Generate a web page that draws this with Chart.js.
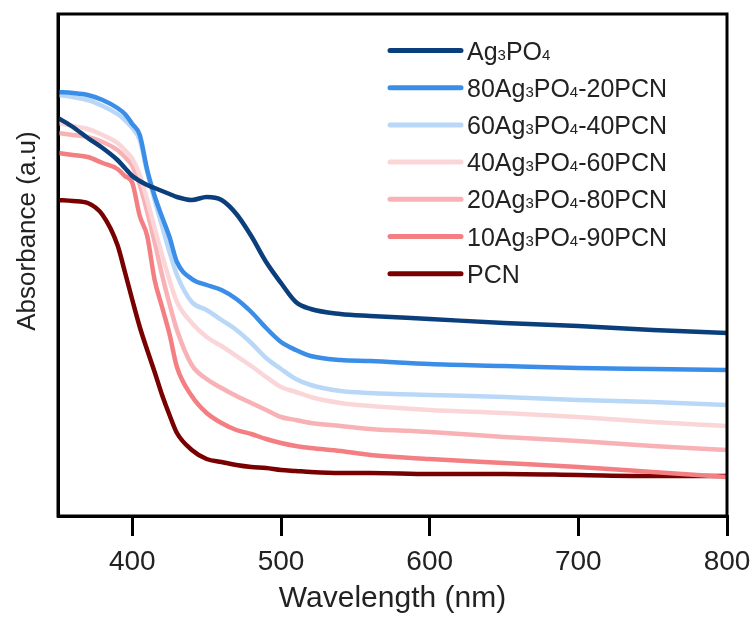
<!DOCTYPE html>
<html>
<head>
<meta charset="utf-8">
<script src="https://cdn.jsdelivr.net/npm/chart.js@4/dist/chart.umd.min.js"></script>
<style>
  html, body { margin: 0; padding: 0; background: #fff; }
  #wrap { width: 755px; height: 617px; position: relative; }
</style>
</head>
<body>
<div id="wrap"><canvas id="c" width="755" height="617"></canvas></div>
<script>
// ---- data ----
const wavelengths = [350,360,370,380,390,395,400,405,410,415,420,425,430,440,450,460,470,480,490,500,510,520,540,560,600,650,700,750,800];
const xTicks = [400, 500, 600, 700, 800];
const xTitle = 'Wavelength (nm)';
const yTitle = 'Absorbance (a.u)';
const seriesNames = ['Ag₃PO₄', '80Ag₃PO₄-20PCN', '60Ag₃PO₄-40PCN', '40Ag₃PO₄-60PCN', '20Ag₃PO₄-80PCN', '10Ag₃PO₄-90PCN', 'PCN'];
const seriesColors = ['#0b3f7c', '#3b8ee8', '#b9d8f8', '#fbd6d8', '#f8b2b5', '#f47f83', '#790000'];

const ag3po4    = [3.98,3.89,3.78,3.68,3.56,3.48,3.40,3.35,3.31,3.28,3.25,3.22,3.19,3.16,3.19,3.16,3.02,2.80,2.54,2.33,2.14,2.07,2.02,2.00,1.97,1.93,1.90,1.86,1.83];
const ag80pcn20 = [4.24,4.23,4.21,4.16,4.08,4.02,3.92,3.81,3.46,3.20,2.99,2.79,2.54,2.37,2.31,2.26,2.17,2.04,1.88,1.74,1.66,1.60,1.56,1.55,1.52,1.50,1.48,1.47,1.46];
const ag60pcn40 = [4.21,4.19,4.16,4.10,4.02,3.96,3.88,3.76,3.44,3.16,2.90,2.64,2.41,2.14,2.06,1.96,1.86,1.73,1.58,1.47,1.37,1.31,1.25,1.23,1.21,1.19,1.16,1.14,1.11];
const ag40pcn60 = [3.93,3.90,3.87,3.81,3.73,3.66,3.57,3.41,3.16,2.88,2.61,2.36,2.14,1.93,1.79,1.70,1.60,1.50,1.39,1.29,1.24,1.19,1.13,1.10,1.06,1.03,0.99,0.94,0.90];
const ag20pcn80 = [3.83,3.81,3.79,3.74,3.66,3.59,3.50,3.31,3.04,2.74,2.41,2.12,1.86,1.51,1.37,1.28,1.20,1.13,1.06,0.99,0.96,0.93,0.90,0.87,0.84,0.79,0.75,0.70,0.66];
const ag10pcn90 = [3.63,3.61,3.59,3.53,3.47,3.40,3.33,3.00,2.80,2.36,2.09,1.82,1.49,1.20,1.03,0.93,0.86,0.82,0.77,0.73,0.70,0.68,0.65,0.61,0.57,0.53,0.49,0.44,0.39];
const pcn       = [3.16,3.15,3.13,3.01,2.71,2.44,2.16,1.89,1.66,1.44,1.21,1.01,0.83,0.66,0.57,0.54,0.51,0.49,0.48,0.46,0.45,0.44,0.43,0.43,0.42,0.42,0.41,0.40,0.40];

const seriesValues = [ag3po4, ag80pcn20, ag60pcn40, ag40pcn60, ag20pcn80, ag10pcn90, pcn];

const FONT = "'Liberation Sans', Arial, sans-serif";
const TEXT = '#222222';

const datasets = seriesValues.map((vals, i) => ({
  label: seriesNames[i],
  data: wavelengths.map((w, j) => ({ x: w, y: vals[j] })),
  borderColor: seriesColors[i],
  backgroundColor: seriesColors[i],
  borderWidth: 4.5,
  pointRadius: 0,
  cubicInterpolationMode: 'monotone',
  fill: false
}));

// legend drawn inside the plot, with small subscript digits
const insideLegend = {
  id: 'insideLegend',
  afterDatasetsDraw(chart) {
    const ctx = chart.ctx;
    const fs = 25;
    const x0 = 390, x1 = 461, tx = 467, y0 = 50.5, dy = 37.2;
    ctx.save();
    chart.data.datasets.forEach((ds, i) => {
      const y = y0 + i * dy;
      ctx.strokeStyle = ds.borderColor;
      ctx.lineWidth = 5;
      ctx.lineCap = 'round';
      ctx.beginPath(); ctx.moveTo(x0, y); ctx.lineTo(x1, y); ctx.stroke();
      ctx.fillStyle = TEXT;
      ctx.textBaseline = 'alphabetic';
      ctx.textAlign = 'left';
      let x = tx;
      const base = y + fs * 0.36;
      for (const ch of ds.label) {
        const code = ch.charCodeAt(0);
        if (code >= 0x2080 && code <= 0x2089) {
          const d = String.fromCharCode(48 + code - 0x2080);
          ctx.font = Math.round(fs * 0.6) + 'px ' + FONT;
          ctx.fillText(d, x, base);
          x += ctx.measureText(d).width;
        } else {
          ctx.font = fs + 'px ' + FONT;
          ctx.fillText(ch, x, base);
          x += ctx.measureText(ch).width;
        }
      }
    });
    ctx.restore();
  }
};

// y-axis title (placed a little above the axis middle, as in the reference)
const yAxisTitle = {
  id: 'yAxisTitle',
  afterDraw(chart) {
    const ctx = chart.ctx;
    ctx.save();
    ctx.translate(28, 231);
    ctx.rotate(-Math.PI / 2);
    ctx.font = '26px ' + FONT;
    ctx.fillStyle = TEXT;
    ctx.textAlign = 'center';
    ctx.textBaseline = 'middle';
    ctx.fillText(yTitle, 0, 0);
    ctx.restore();
  }
};

const frame = {
  id: 'frame',
  afterDraw(chart) {
    const a = chart.chartArea, ctx = chart.ctx;
    ctx.save();
    ctx.strokeStyle = '#000';
    ctx.lineWidth = 3;
    ctx.strokeRect(a.left, a.top, a.right - a.left, a.bottom - a.top);
    ctx.restore();
  }
};

new Chart(document.getElementById('c'), {
  type: 'line',
  data: { datasets },
  options: {
    responsive: false,
    animation: false,
    layout: { padding: { top: 14, right: 28, left: 0, bottom: 0 } },
    plugins: { legend: { display: false }, tooltip: { enabled: false } },
    scales: {
      x: {
        type: 'linear',
        min: 350, max: 800,
        afterBuildTicks(scale) { scale.ticks = xTicks.map(v => ({ value: v })); },
        afterFit(scale) { scale.height = 101; scale.paddingRight = 0; scale.paddingLeft = 0; },
        grid: { display: true, drawOnChartArea: false, drawTicks: true, tickLength: 20, color: '#000', lineWidth: 3 },
        border: { display: true, color: '#000', width: 3 },
        ticks: { color: TEXT, font: { family: FONT, size: 28 }, padding: 9, maxRotation: 0, autoSkip: false },
        title: { display: true, text: xTitle, color: TEXT, font: { family: FONT, size: 30 }, padding: { top: 0, bottom: 0 } }
      },
      y: {
        min: 0, max: 5.02,
        afterFit(scale) { scale.width = 58; },
        grid: { display: false },
        border: { display: true, color: '#000', width: 3 },
        ticks: { display: false },
        title: { display: false }
      }
    }
  },
  plugins: [insideLegend, yAxisTitle, frame]
});
</script>
</body>
</html>
